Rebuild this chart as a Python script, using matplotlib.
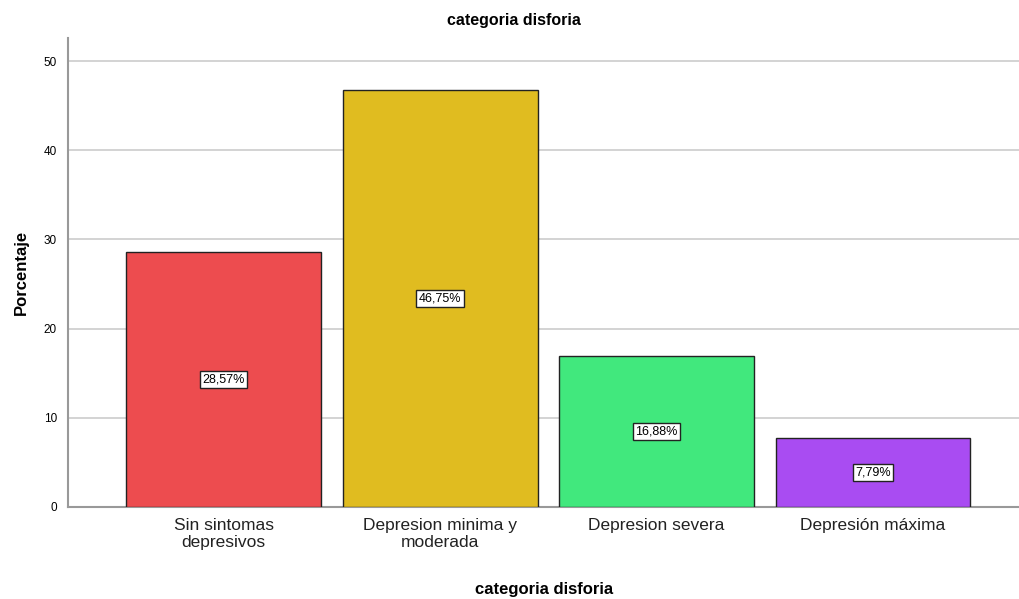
import matplotlib
matplotlib.use("Agg")
import matplotlib.pyplot as plt

categories = ["Sin sintomas\ndepresivos", "Depresion minima y\nmoderada", "Depresion severa", "Depresión máxima"]
percent = [28.57, 46.75, 16.88, 7.79]
colors = ["#ED4C4F", "#E0BC20", "#41E87D", "#A94CF2"]

plt.rcParams["font.family"] = ["Liberation Sans", "DejaVu Sans"]

fig = plt.figure(figsize=(10.2, 5.99), dpi=100)
ax = fig.add_axes([0.0667, 0.1536, 0.9333, 0.783])

x = list(range(len(categories)))
ax.bar(x, percent, width=0.9, color=colors, edgecolor="#222222", linewidth=1.0, zorder=3)
for xi, v in zip(x, percent):
    ax.text(xi, v / 2, ("%.2f%%" % v).replace(".", ","), ha="center", va="center", fontsize=9,
            bbox=dict(boxstyle="square,pad=0.2", fc="white", ec="#222222", lw=1.0), zorder=4)

ax.set_xlim(-0.72, 3.68)
ax.set_ylim(0, 52.6)
ax.set_yticks([0, 10, 20, 30, 40, 50])
ax.yaxis.grid(True, color="#cccccc", linewidth=1.2, zorder=0)
ax.set_xticks(x)
ax.set_xticklabels(categories, fontsize=12.5, color="#222222", linespacing=1.15)
ax.tick_params(axis="x", length=0, pad=8)
ax.tick_params(axis="y", length=0, labelsize=8.5, pad=8)
for s in ["top", "right"]:
    ax.spines[s].set_visible(False)
ax.spines["left"].set_color("#999999")
ax.spines["left"].set_linewidth(1.5)
ax.spines["bottom"].set_color("#999999")
ax.spines["bottom"].set_linewidth(1.5)

ax.set_xlabel("categoria disforia", fontsize=12, fontweight="bold", labelpad=23)
ax.set_ylabel("Porcentaje", fontsize=12, fontweight="bold", labelpad=11)
fig.text(0.504, 0.966, "categoria disforia", ha="center", va="center", fontsize=11.5, fontweight="bold")

fig.savefig("out.png", dpi=100)
